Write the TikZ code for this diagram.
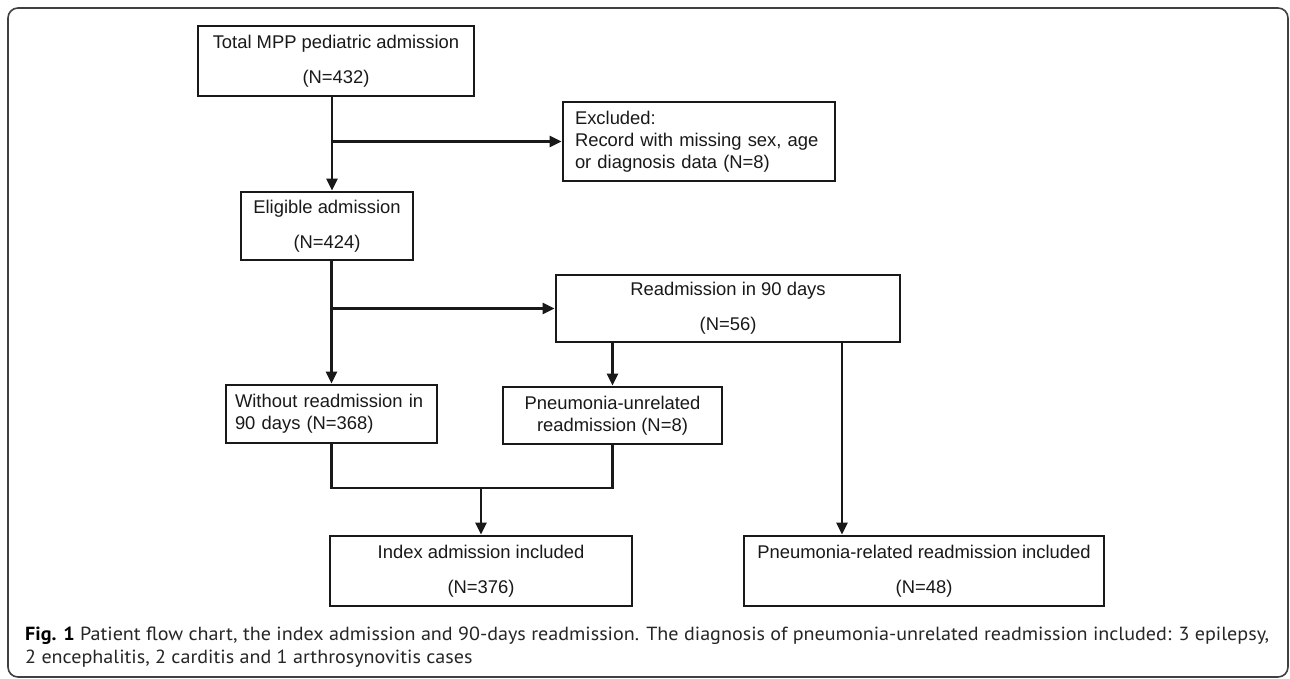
\documentclass[tikz,border=0pt]{standalone}
\usepackage{fontspec}
\setmainfont{Liberation Sans}
\newfontfamily\capfont{PT Sans}
\usetikzlibrary{arrows.meta}
\newlength\capw
\newcommand\capone{\textbf{\color{black}Fig. 1} Patient flow chart, the index admission and 90-days readmission. The diagnosis of pneumonia-unrelated readmission included: 3 epilepsy,}
\AtBeginDocument{%
  \settowidth\capw{\capfont\fontsize{19}{23}\selectfont\capone}%
  \pgfmathsetmacro\capscale{1244/\capw}}
\begin{document}
\begin{tikzpicture}[x=1pt,y=-1pt,
  box/.style={draw=black!90, line width=2.8pt, inner sep=0pt, align=center,
              font=\fontsize{18.4}{35}\selectfont, text=black!90},
  tbox/.style={box, font=\fontsize{18.4}{22}\selectfont},
  arr/.style={line width=2.4pt, draw=black!90, -{Triangle[length=12pt,width=11pt]}},
  ln/.style={line width=2.4pt, draw=black!90},
  captext/.style={anchor=west, inner sep=0pt, font=\capfont\fontsize{19}{23}\selectfont, text=black!85},
  outerframe/.style={line width=1.6pt, draw=black!75, rounded corners=10pt}]
\useasboundingbox (0,0) rectangle (1290,679);
\fill[white] (0,0) rectangle (1290,679);
\draw[outerframe] (8,8) rectangle (1288,677);

% boxes
\node[box, minimum width=276pt, minimum height=70pt] (total) at (336,61)
  {Total MPP pediatric admission\\(N=432)};
\node[tbox, align=left, text width=248pt, inner xsep=12pt, minimum height=79pt] (excl) at (699,141.5)
  {Excluded:\\Record with missing sex, age\\or diagnosis data (N=8)};
\node[box, minimum width=172pt, minimum height=68pt] (elig) at (327,226)
  {Eligible admission\\(N=424)};
\node[box, minimum width=344pt, minimum height=67pt] (readm) at (728,308.5)
  {Readmission in 90 days\\(N=56)};
\node[tbox, align=left, text width=193pt, inner xsep=9pt, minimum height=58pt] (without) at (331.5,414)
  {Without readmission in\\90 days (N=368)};
\node[tbox, minimum width=219pt, minimum height=57pt] (unrel) at (612.5,415.5)
  {Pneumonia-unrelated\\readmission (N=8)};
\node[box, minimum width=302pt, minimum height=70pt] (index) at (481,571)
  {Index admission included\\(N=376)};
\node[box, minimum width=360pt, minimum height=70pt] (related) at (924,571)
  {Pneumonia-related readmission included\\(N=48)};

% connectors
\coordinate (s1) at (332,0);
\coordinate (rr) at (842,0);
\coordinate (m) at (481,488);
\draw[arr] (s1 |- total.south) -- (s1 |- elig.north);
\draw[arr] (s1 |- excl.west) -- (excl.west);
\draw[arr] (elig.south -| without.north) -- (without.north);
\draw[arr] (without.north |- readm.west) -- (readm.west);
\draw[arr] (readm.south -| unrel.north) -- (unrel.north);
\draw[arr] (readm.south -| rr) -- (related.north -| rr);
\draw[ln] (without.south) |- (m) -| (unrel.south);
\draw[arr] (m) -- (index.north);

% caption
\node[captext] (cap1) at (25,636) {\scalebox{\capscale}[1]{\capone}};
\node[captext] (cap2) at (25,659) {\scalebox{\capscale}[1]{2 encephalitis, 2 carditis and 1 arthrosynovitis cases}};
\end{tikzpicture}
\end{document}
